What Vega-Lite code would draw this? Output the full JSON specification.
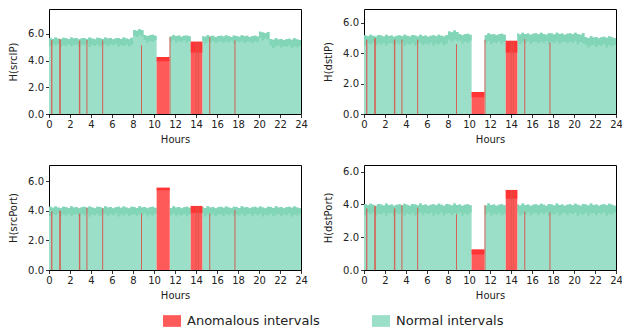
{
"$schema": "https://vega.github.io/schema/vega-lite/v6.json",
"padding": {"left": 8, "top": 8, "right": 0, "bottom": 0},
"config": {
  "font": "DejaVu Sans",
  "view": {"stroke": "#000", "strokeWidth": 1},
  "axis": {"domain": false, "grid": false, "tickColor": "#000", "tickSize": 3.5, "tickWidth": 0.8, "labelFontSize": 10, "labelColor": "#222", "labelPadding": 2, "titleFontSize": 10, "titleFontWeight": "normal", "titleColor": "#222", "labelOverlap": false, "labelFlush": false, "tickCount": 30},
  "axisX": {"titlePadding": 5},
  "axisY": {"titlePadding": 9}
},
"datasets": {
"srcIP": [{"h":0,"hi":5.70,"lo":5.07},{"h":0.25,"hi":5.63,"lo":5.20},{"h":0.5,"hi":5.73,"lo":5.13},{"h":0.75,"hi":5.66,"lo":5.24},{"h":1,"hi":5.61,"lo":5.03},{"h":1.25,"hi":5.71,"lo":5.18},{"h":1.5,"hi":5.68,"lo":5.10},{"h":1.75,"hi":5.62,"lo":5.22},{"h":2,"hi":5.74,"lo":5.05},{"h":2.25,"hi":5.65,"lo":5.17},{"h":2.5,"hi":5.69,"lo":5.21},{"h":2.75,"hi":5.60,"lo":5.07},{"h":3,"hi":5.67,"lo":5.20},{"h":3.25,"hi":5.70,"lo":5.13},{"h":3.5,"hi":5.63,"lo":5.24},{"h":3.75,"hi":5.73,"lo":5.03},{"h":4,"hi":5.66,"lo":5.18},{"h":4.25,"hi":5.61,"lo":5.10},{"h":4.5,"hi":5.71,"lo":5.22},{"h":4.75,"hi":5.68,"lo":5.05},{"h":5,"hi":5.62,"lo":5.17},{"h":5.25,"hi":5.74,"lo":5.21},{"h":5.5,"hi":5.65,"lo":5.07},{"h":5.75,"hi":5.69,"lo":5.20},{"h":6,"hi":5.60,"lo":5.13},{"h":6.25,"hi":5.67,"lo":5.24},{"h":6.5,"hi":5.70,"lo":5.03},{"h":6.75,"hi":5.63,"lo":5.18},{"h":7,"hi":5.73,"lo":5.10},{"h":7.25,"hi":5.66,"lo":5.22},{"h":7.5,"hi":5.61,"lo":5.05},{"h":7.75,"hi":5.71,"lo":5.17},{"h":8,"hi":6.30,"lo":5.91},{"h":8.25,"hi":6.24,"lo":5.77},{"h":8.5,"hi":6.36,"lo":5.90},{"h":8.75,"hi":6.27,"lo":5.83},{"h":9,"hi":5.93,"lo":5.54},{"h":9.25,"hi":5.84,"lo":5.33},{"h":9.5,"hi":5.91,"lo":5.48},{"h":9.75,"hi":5.94,"lo":5.40},{"h":10,"hi":5.87,"lo":5.52},{"h":10.25,"hi":0,"lo":0},{"h":11.5,"hi":5.81,"lo":5.43},{"h":11.75,"hi":5.93,"lo":5.54},{"h":12,"hi":5.84,"lo":5.33},{"h":12.25,"hi":5.88,"lo":5.48},{"h":12.5,"hi":5.79,"lo":5.40},{"h":12.75,"hi":5.86,"lo":5.52},{"h":13,"hi":5.89,"lo":5.35},{"h":13.25,"hi":5.82,"lo":5.47},{"h":13.5,"hi":0,"lo":0},{"h":14.6,"hi":5.85,"lo":5.49},{"h":14.75,"hi":5.79,"lo":5.28},{"h":15,"hi":5.91,"lo":5.43},{"h":15.25,"hi":5.82,"lo":5.35},{"h":15.5,"hi":5.86,"lo":5.47},{"h":15.75,"hi":5.77,"lo":5.30},{"h":16,"hi":5.84,"lo":5.42},{"h":16.25,"hi":5.87,"lo":5.46},{"h":16.5,"hi":5.80,"lo":5.32},{"h":16.75,"hi":5.90,"lo":5.45},{"h":17,"hi":5.83,"lo":5.38},{"h":17.25,"hi":5.78,"lo":5.49},{"h":17.5,"hi":5.88,"lo":5.28},{"h":17.75,"hi":5.85,"lo":5.43},{"h":18,"hi":5.79,"lo":5.35},{"h":18.25,"hi":5.91,"lo":5.47},{"h":18.5,"hi":5.82,"lo":5.30},{"h":18.75,"hi":5.86,"lo":5.42},{"h":19,"hi":5.77,"lo":5.46},{"h":19.25,"hi":5.84,"lo":5.32},{"h":19.5,"hi":5.87,"lo":5.45},{"h":19.75,"hi":5.80,"lo":5.38},{"h":20,"hi":6.17,"lo":5.74},{"h":20.25,"hi":6.10,"lo":5.53},{"h":20.5,"hi":6.05,"lo":5.68},{"h":20.75,"hi":6.15,"lo":5.60},{"h":21,"hi":5.62,"lo":5.12},{"h":21.25,"hi":5.56,"lo":4.95},{"h":21.5,"hi":5.68,"lo":5.07},{"h":21.75,"hi":5.59,"lo":5.11},{"h":22,"hi":5.63,"lo":4.97},{"h":22.25,"hi":5.54,"lo":5.10},{"h":22.5,"hi":5.61,"lo":5.03},{"h":22.75,"hi":5.64,"lo":5.14},{"h":23,"hi":5.57,"lo":4.93},{"h":23.25,"hi":5.67,"lo":5.08},{"h":23.5,"hi":5.60,"lo":5.00},{"h":23.75,"hi":5.55,"lo":5.12},{"h":24,"hi":5.65,"lo":4.95}],
"dstIP": [{"h":0,"hi":5.19,"lo":4.54},{"h":0.25,"hi":5.12,"lo":4.67},{"h":0.5,"hi":5.22,"lo":4.60},{"h":0.75,"hi":5.15,"lo":4.71},{"h":1,"hi":5.10,"lo":4.50},{"h":1.25,"hi":5.20,"lo":4.65},{"h":1.5,"hi":5.17,"lo":4.57},{"h":1.75,"hi":5.11,"lo":4.69},{"h":2,"hi":5.23,"lo":4.52},{"h":2.25,"hi":5.14,"lo":4.64},{"h":2.5,"hi":5.18,"lo":4.68},{"h":2.75,"hi":5.09,"lo":4.54},{"h":3,"hi":5.16,"lo":4.67},{"h":3.25,"hi":5.19,"lo":4.60},{"h":3.5,"hi":5.12,"lo":4.71},{"h":3.75,"hi":5.22,"lo":4.50},{"h":4,"hi":5.15,"lo":4.65},{"h":4.25,"hi":5.10,"lo":4.57},{"h":4.5,"hi":5.20,"lo":4.69},{"h":4.75,"hi":5.17,"lo":4.52},{"h":5,"hi":5.11,"lo":4.64},{"h":5.25,"hi":5.23,"lo":4.68},{"h":5.5,"hi":5.14,"lo":4.54},{"h":5.75,"hi":5.18,"lo":4.67},{"h":6,"hi":5.09,"lo":4.60},{"h":6.25,"hi":5.16,"lo":4.71},{"h":6.5,"hi":5.19,"lo":4.50},{"h":6.75,"hi":5.12,"lo":4.65},{"h":7,"hi":5.22,"lo":4.57},{"h":7.25,"hi":5.15,"lo":4.69},{"h":7.5,"hi":5.10,"lo":4.52},{"h":7.75,"hi":5.20,"lo":4.64},{"h":8,"hi":5.44,"lo":4.91},{"h":8.25,"hi":5.38,"lo":4.77},{"h":8.5,"hi":5.50,"lo":4.90},{"h":8.75,"hi":5.41,"lo":4.83},{"h":9,"hi":5.28,"lo":4.84},{"h":9.25,"hi":5.19,"lo":4.63},{"h":9.5,"hi":5.26,"lo":4.78},{"h":9.75,"hi":5.29,"lo":4.70},{"h":10,"hi":5.22,"lo":4.82},{"h":10.25,"hi":0,"lo":0},{"h":11.5,"hi":5.21,"lo":4.70},{"h":11.75,"hi":5.33,"lo":4.81},{"h":12,"hi":5.24,"lo":4.60},{"h":12.25,"hi":5.28,"lo":4.75},{"h":12.5,"hi":5.19,"lo":4.67},{"h":12.75,"hi":5.26,"lo":4.79},{"h":13,"hi":5.29,"lo":4.62},{"h":13.25,"hi":5.22,"lo":4.74},{"h":13.5,"hi":0,"lo":0},{"h":14.6,"hi":5.30,"lo":4.81},{"h":14.75,"hi":5.24,"lo":4.60},{"h":15,"hi":5.36,"lo":4.75},{"h":15.25,"hi":5.27,"lo":4.67},{"h":15.5,"hi":5.31,"lo":4.79},{"h":15.75,"hi":5.22,"lo":4.62},{"h":16,"hi":5.29,"lo":4.74},{"h":16.25,"hi":5.32,"lo":4.78},{"h":16.5,"hi":5.25,"lo":4.64},{"h":16.75,"hi":5.35,"lo":4.77},{"h":17,"hi":5.28,"lo":4.70},{"h":17.25,"hi":5.23,"lo":4.81},{"h":17.5,"hi":5.33,"lo":4.60},{"h":17.75,"hi":5.30,"lo":4.75},{"h":18,"hi":5.24,"lo":4.67},{"h":18.25,"hi":5.36,"lo":4.79},{"h":18.5,"hi":5.27,"lo":4.62},{"h":18.75,"hi":5.31,"lo":4.74},{"h":19,"hi":5.22,"lo":4.78},{"h":19.25,"hi":5.29,"lo":4.64},{"h":19.5,"hi":5.32,"lo":4.77},{"h":19.75,"hi":5.25,"lo":4.70},{"h":20,"hi":5.35,"lo":4.81},{"h":20.25,"hi":5.28,"lo":4.60},{"h":20.5,"hi":5.23,"lo":4.75},{"h":20.75,"hi":5.33,"lo":4.67},{"h":21,"hi":5.07,"lo":4.57},{"h":21.25,"hi":5.01,"lo":4.40},{"h":21.5,"hi":5.13,"lo":4.52},{"h":21.75,"hi":5.04,"lo":4.56},{"h":22,"hi":5.08,"lo":4.42},{"h":22.25,"hi":4.99,"lo":4.55},{"h":22.5,"hi":5.06,"lo":4.48},{"h":22.75,"hi":5.09,"lo":4.59},{"h":23,"hi":5.02,"lo":4.38},{"h":23.25,"hi":5.12,"lo":4.53},{"h":23.5,"hi":5.05,"lo":4.45},{"h":23.75,"hi":5.00,"lo":4.57},{"h":24,"hi":5.10,"lo":4.40}],
"srcPort": [{"h":0,"hi":4.26,"lo":3.64},{"h":0.25,"hi":4.19,"lo":3.77},{"h":0.5,"hi":4.29,"lo":3.70},{"h":0.75,"hi":4.22,"lo":3.81},{"h":1,"hi":4.17,"lo":3.60},{"h":1.25,"hi":4.27,"lo":3.75},{"h":1.5,"hi":4.24,"lo":3.67},{"h":1.75,"hi":4.18,"lo":3.79},{"h":2,"hi":4.30,"lo":3.62},{"h":2.25,"hi":4.21,"lo":3.74},{"h":2.5,"hi":4.25,"lo":3.78},{"h":2.75,"hi":4.16,"lo":3.64},{"h":3,"hi":4.23,"lo":3.77},{"h":3.25,"hi":4.26,"lo":3.70},{"h":3.5,"hi":4.19,"lo":3.81},{"h":3.75,"hi":4.29,"lo":3.60},{"h":4,"hi":4.22,"lo":3.75},{"h":4.25,"hi":4.17,"lo":3.67},{"h":4.5,"hi":4.27,"lo":3.79},{"h":4.75,"hi":4.24,"lo":3.62},{"h":5,"hi":4.18,"lo":3.74},{"h":5.25,"hi":4.30,"lo":3.78},{"h":5.5,"hi":4.21,"lo":3.64},{"h":5.75,"hi":4.25,"lo":3.77},{"h":6,"hi":4.16,"lo":3.70},{"h":6.25,"hi":4.23,"lo":3.81},{"h":6.5,"hi":4.26,"lo":3.60},{"h":6.75,"hi":4.19,"lo":3.75},{"h":7,"hi":4.29,"lo":3.67},{"h":7.25,"hi":4.22,"lo":3.79},{"h":7.5,"hi":4.17,"lo":3.62},{"h":7.75,"hi":4.27,"lo":3.74},{"h":8,"hi":4.24,"lo":3.78},{"h":8.25,"hi":4.18,"lo":3.64},{"h":8.5,"hi":4.30,"lo":3.77},{"h":8.75,"hi":4.21,"lo":3.70},{"h":9,"hi":4.25,"lo":3.81},{"h":9.25,"hi":4.16,"lo":3.60},{"h":9.5,"hi":4.23,"lo":3.75},{"h":9.75,"hi":4.26,"lo":3.67},{"h":10,"hi":4.19,"lo":3.79},{"h":10.25,"hi":0,"lo":0},{"h":11.5,"hi":4.18,"lo":3.70},{"h":11.75,"hi":4.30,"lo":3.81},{"h":12,"hi":4.21,"lo":3.60},{"h":12.25,"hi":4.25,"lo":3.75},{"h":12.5,"hi":4.16,"lo":3.67},{"h":12.75,"hi":4.23,"lo":3.79},{"h":13,"hi":4.26,"lo":3.62},{"h":13.25,"hi":4.19,"lo":3.74},{"h":13.5,"hi":0,"lo":0},{"h":14.6,"hi":4.24,"lo":3.81},{"h":14.75,"hi":4.18,"lo":3.60},{"h":15,"hi":4.30,"lo":3.75},{"h":15.25,"hi":4.21,"lo":3.67},{"h":15.5,"hi":4.25,"lo":3.79},{"h":15.75,"hi":4.16,"lo":3.62},{"h":16,"hi":4.23,"lo":3.74},{"h":16.25,"hi":4.26,"lo":3.78},{"h":16.5,"hi":4.19,"lo":3.64},{"h":16.75,"hi":4.29,"lo":3.77},{"h":17,"hi":4.22,"lo":3.70},{"h":17.25,"hi":4.17,"lo":3.81},{"h":17.5,"hi":4.27,"lo":3.60},{"h":17.75,"hi":4.24,"lo":3.75},{"h":18,"hi":4.18,"lo":3.67},{"h":18.25,"hi":4.30,"lo":3.79},{"h":18.5,"hi":4.21,"lo":3.62},{"h":18.75,"hi":4.25,"lo":3.74},{"h":19,"hi":4.16,"lo":3.78},{"h":19.25,"hi":4.23,"lo":3.64},{"h":19.5,"hi":4.26,"lo":3.77},{"h":19.75,"hi":4.19,"lo":3.70},{"h":20,"hi":4.29,"lo":3.81},{"h":20.25,"hi":4.22,"lo":3.60},{"h":20.5,"hi":4.17,"lo":3.75},{"h":20.75,"hi":4.27,"lo":3.67},{"h":21,"hi":4.24,"lo":3.79},{"h":21.25,"hi":4.18,"lo":3.62},{"h":21.5,"hi":4.30,"lo":3.74},{"h":21.75,"hi":4.21,"lo":3.78},{"h":22,"hi":4.25,"lo":3.64},{"h":22.25,"hi":4.16,"lo":3.77},{"h":22.5,"hi":4.23,"lo":3.70},{"h":22.75,"hi":4.26,"lo":3.81},{"h":23,"hi":4.19,"lo":3.60},{"h":23.25,"hi":4.29,"lo":3.75},{"h":23.5,"hi":4.22,"lo":3.67},{"h":23.75,"hi":4.17,"lo":3.79},{"h":24,"hi":4.27,"lo":3.62}],
"dstPort": [{"h":0,"hi":4.01,"lo":3.34},{"h":0.25,"hi":3.94,"lo":3.47},{"h":0.5,"hi":4.04,"lo":3.40},{"h":0.75,"hi":3.97,"lo":3.51},{"h":1,"hi":3.92,"lo":3.30},{"h":1.25,"hi":4.02,"lo":3.45},{"h":1.5,"hi":3.99,"lo":3.37},{"h":1.75,"hi":3.93,"lo":3.49},{"h":2,"hi":4.05,"lo":3.32},{"h":2.25,"hi":3.96,"lo":3.44},{"h":2.5,"hi":4.00,"lo":3.48},{"h":2.75,"hi":3.91,"lo":3.34},{"h":3,"hi":3.98,"lo":3.47},{"h":3.25,"hi":4.01,"lo":3.40},{"h":3.5,"hi":3.94,"lo":3.51},{"h":3.75,"hi":4.04,"lo":3.30},{"h":4,"hi":3.97,"lo":3.45},{"h":4.25,"hi":3.92,"lo":3.37},{"h":4.5,"hi":4.02,"lo":3.49},{"h":4.75,"hi":3.99,"lo":3.32},{"h":5,"hi":3.93,"lo":3.44},{"h":5.25,"hi":4.05,"lo":3.48},{"h":5.5,"hi":3.96,"lo":3.34},{"h":5.75,"hi":4.00,"lo":3.47},{"h":6,"hi":3.91,"lo":3.40},{"h":6.25,"hi":3.98,"lo":3.51},{"h":6.5,"hi":4.01,"lo":3.30},{"h":6.75,"hi":3.94,"lo":3.45},{"h":7,"hi":4.04,"lo":3.37},{"h":7.25,"hi":3.97,"lo":3.49},{"h":7.5,"hi":3.92,"lo":3.32},{"h":7.75,"hi":4.02,"lo":3.44},{"h":8,"hi":3.99,"lo":3.48},{"h":8.25,"hi":3.93,"lo":3.34},{"h":8.5,"hi":4.05,"lo":3.47},{"h":8.75,"hi":3.96,"lo":3.40},{"h":9,"hi":4.00,"lo":3.51},{"h":9.25,"hi":3.91,"lo":3.30},{"h":9.5,"hi":3.98,"lo":3.45},{"h":9.75,"hi":4.01,"lo":3.37},{"h":10,"hi":3.94,"lo":3.49},{"h":10.25,"hi":0,"lo":0},{"h":11.5,"hi":3.93,"lo":3.40},{"h":11.75,"hi":4.05,"lo":3.51},{"h":12,"hi":3.96,"lo":3.30},{"h":12.25,"hi":4.00,"lo":3.45},{"h":12.5,"hi":3.91,"lo":3.37},{"h":12.75,"hi":3.98,"lo":3.49},{"h":13,"hi":4.01,"lo":3.32},{"h":13.25,"hi":3.94,"lo":3.44},{"h":13.5,"hi":0,"lo":0},{"h":14.6,"hi":3.99,"lo":3.51},{"h":14.75,"hi":3.93,"lo":3.30},{"h":15,"hi":4.05,"lo":3.45},{"h":15.25,"hi":3.96,"lo":3.37},{"h":15.5,"hi":4.00,"lo":3.49},{"h":15.75,"hi":3.91,"lo":3.32},{"h":16,"hi":3.98,"lo":3.44},{"h":16.25,"hi":4.01,"lo":3.48},{"h":16.5,"hi":3.94,"lo":3.34},{"h":16.75,"hi":4.04,"lo":3.47},{"h":17,"hi":3.97,"lo":3.40},{"h":17.25,"hi":3.92,"lo":3.51},{"h":17.5,"hi":4.02,"lo":3.30},{"h":17.75,"hi":3.99,"lo":3.45},{"h":18,"hi":3.93,"lo":3.37},{"h":18.25,"hi":4.05,"lo":3.49},{"h":18.5,"hi":3.96,"lo":3.32},{"h":18.75,"hi":4.00,"lo":3.44},{"h":19,"hi":3.91,"lo":3.48},{"h":19.25,"hi":3.98,"lo":3.34},{"h":19.5,"hi":4.01,"lo":3.47},{"h":19.75,"hi":3.94,"lo":3.40},{"h":20,"hi":4.04,"lo":3.51},{"h":20.25,"hi":3.97,"lo":3.30},{"h":20.5,"hi":3.92,"lo":3.45},{"h":20.75,"hi":4.02,"lo":3.37},{"h":21,"hi":3.99,"lo":3.49},{"h":21.25,"hi":3.93,"lo":3.32},{"h":21.5,"hi":4.05,"lo":3.44},{"h":21.75,"hi":3.96,"lo":3.48},{"h":22,"hi":4.00,"lo":3.34},{"h":22.25,"hi":3.91,"lo":3.47},{"h":22.5,"hi":3.98,"lo":3.40},{"h":22.75,"hi":4.01,"lo":3.51},{"h":23,"hi":3.94,"lo":3.30},{"h":23.25,"hi":4.04,"lo":3.45},{"h":23.5,"hi":3.97,"lo":3.37},{"h":23.75,"hi":3.92,"lo":3.49},{"h":24,"hi":4.02,"lo":3.32}],
"srcIP_b": [{"s":10.25,"e":11.47,"top":4.27,"lo":3.95},{"s":13.5,"e":14.6,"top":5.42,"lo":4.6}],
"dstIP_b": [{"s":10.25,"e":11.47,"top":1.45,"lo":1.1},{"s":13.5,"e":14.6,"top":4.82,"lo":4.05}],
"srcPort_b": [{"s":10.25,"e":11.5,"top":5.55,"lo":5.38},{"s":13.5,"e":14.6,"top":4.32,"lo":3.85}],
"dstPort_b": [{"s":10.25,"e":11.47,"top":1.25,"lo":0.95},{"s":13.5,"e":14.6,"top":4.88,"lo":4.35}],
"srcIP_l": [{"s":0.2,"e":0.32,"top":5.55},{"s":0.97,"e":1.13,"top":5.6},{"s":2.85,"e":2.98,"top":5.5},{"s":3.56,"e":3.66,"top":5.55},{"s":5.06,"e":5.16,"top":5.5},{"s":8.76,"e":8.86,"top":5.15},{"s":11.47,"e":11.57,"top":5.75},{"s":13.97,"e":14.06,"top":5.35},{"s":14.2,"e":14.28,"top":5.35},{"s":15.26,"e":15.36,"top":5.75},{"s":17.66,"e":17.76,"top":5.5}],
"dstIP_l": [{"s":0.2,"e":0.32,"top":4.9},{"s":0.97,"e":1.13,"top":5.0},{"s":2.85,"e":2.98,"top":4.9},{"s":3.56,"e":3.66,"top":4.9},{"s":5.06,"e":5.16,"top":4.9},{"s":8.76,"e":8.86,"top":4.6},{"s":11.47,"e":11.57,"top":4.9},{"s":13.97,"e":14.06,"top":4.8},{"s":14.2,"e":14.28,"top":4.8},{"s":15.26,"e":15.36,"top":4.95},{"s":17.66,"e":17.76,"top":4.7}],
"srcPort_l": [{"s":0.2,"e":0.32,"top":3.95},{"s":0.97,"e":1.13,"top":4.0},{"s":2.85,"e":2.98,"top":3.8},{"s":3.56,"e":3.66,"top":4.2},{"s":5.06,"e":5.16,"top":4.15},{"s":8.76,"e":8.86,"top":3.8},{"s":13.97,"e":14.06,"top":4.3},{"s":14.2,"e":14.28,"top":4.3},{"s":15.26,"e":15.36,"top":3.8},{"s":17.66,"e":17.76,"top":4.05}],
"dstPort_l": [{"s":0.2,"e":0.32,"top":3.75},{"s":0.97,"e":1.13,"top":3.9},{"s":2.85,"e":2.98,"top":3.75},{"s":3.56,"e":3.66,"top":3.95},{"s":5.06,"e":5.16,"top":3.8},{"s":8.76,"e":8.86,"top":3.4},{"s":11.47,"e":11.57,"top":3.95},{"s":13.97,"e":14.06,"top":4.85},{"s":14.2,"e":14.28,"top":4.85},{"s":15.26,"e":15.36,"top":3.55},{"s":17.66,"e":17.76,"top":3.5}]
},
"bounds": "flush",
"columns": 2,
"spacing": {"row": 51, "column": 63},
"concat": [
{"width": 252, "height": 105, "layer": [
 {"data": {"name": "srcIP"}, "mark": {"type": "area", "interpolate": "step-after"}, "encoding": {
   "x": {"field": "h", "type": "quantitative", "title": "Hours", "scale": {"domain": [0, 24], "nice": false}, "axis": {"values": [0,2,4,6,8,10,12,14,16,18,20,22,24], "format": "d", "tickCount": 30}},
   "y": {"field": "hi", "type": "quantitative", "title": "H(srcIP)", "scale": {"domain": [0, 7.87], "nice": false}, "axis": {"values": [0,2,4,6], "format": ".1f", "tickCount": 30}},
   "color": {"datum": "Normal intervals", "scale": {"domain": ["Anomalous intervals", "Normal intervals"], "range": ["#ff5a5a", "#9bdfc8"]}, "legend": {"title": null, "orient": "none", "legendX": 114, "legendY": 303, "direction": "horizontal", "columns": 2, "columnPadding": 52, "symbolType": "M-1,-0.65H1V0.65H-1Z", "symbolSize": 324, "symbolStrokeWidth": 0, "symbolOpacity": 1, "labelFontSize": 13, "labelOffset": 6, "labelColor": "#222"}}}},
 {"data": {"name": "srcIP"}, "mark": {"type": "area", "interpolate": "step-after", "color": "#7ed3b3", "opacity": 0.85}, "encoding": {
   "x": {"field": "h", "type": "quantitative", "title": "Hours"}, "y": {"field": "hi", "type": "quantitative", "title": "H(srcIP)"}, "y2": {"field": "lo"}}},
 {"data": {"name": "srcIP_b"}, "mark": {"type": "rect"}, "encoding": {
   "x": {"field": "s", "type": "quantitative", "title": "Hours"}, "x2": {"field": "e"}, "y": {"field": "top", "type": "quantitative", "title": "H(srcIP)"}, "y2": {"datum": 0},
   "color": {"datum": "Anomalous intervals"}}},
 {"data": {"name": "srcIP_b"}, "mark": {"type": "rect", "color": "#ff2a2a", "opacity": 0.8}, "encoding": {
   "x": {"field": "s", "type": "quantitative", "title": "Hours"}, "x2": {"field": "e"}, "y": {"field": "top", "type": "quantitative", "title": "H(srcIP)"}, "y2": {"field": "lo"}}},
 {"data": {"name": "srcIP_l"}, "mark": {"type": "rect", "color": "#d9574b", "opacity": 0.9}, "encoding": {
   "x": {"field": "s", "type": "quantitative", "title": "Hours"}, "x2": {"field": "e"}, "y": {"field": "top", "type": "quantitative", "title": "H(srcIP)"}, "y2": {"datum": 0}}}
]},
{"width": 252, "height": 105, "layer": [
 {"data": {"name": "dstIP"}, "mark": {"type": "area", "interpolate": "step-after"}, "encoding": {
   "x": {"field": "h", "type": "quantitative", "title": "Hours", "scale": {"domain": [0, 24], "nice": false}, "axis": {"values": [0,2,4,6,8,10,12,14,16,18,20,22,24], "format": "d", "tickCount": 30}},
   "y": {"field": "hi", "type": "quantitative", "title": "H(dstIP)", "scale": {"domain": [0, 6.92], "nice": false}, "axis": {"values": [0,2,4,6], "format": ".1f", "tickCount": 30}},
   "color": {"datum": "Normal intervals"}}},
 {"data": {"name": "dstIP"}, "mark": {"type": "area", "interpolate": "step-after", "color": "#7ed3b3", "opacity": 0.85}, "encoding": {
   "x": {"field": "h", "type": "quantitative", "title": "Hours"}, "y": {"field": "hi", "type": "quantitative", "title": "H(dstIP)"}, "y2": {"field": "lo"}}},
 {"data": {"name": "dstIP_b"}, "mark": {"type": "rect"}, "encoding": {
   "x": {"field": "s", "type": "quantitative", "title": "Hours"}, "x2": {"field": "e"}, "y": {"field": "top", "type": "quantitative", "title": "H(dstIP)"}, "y2": {"datum": 0},
   "color": {"datum": "Anomalous intervals"}}},
 {"data": {"name": "dstIP_b"}, "mark": {"type": "rect", "color": "#ff2a2a", "opacity": 0.8}, "encoding": {
   "x": {"field": "s", "type": "quantitative", "title": "Hours"}, "x2": {"field": "e"}, "y": {"field": "top", "type": "quantitative", "title": "H(dstIP)"}, "y2": {"field": "lo"}}},
 {"data": {"name": "dstIP_l"}, "mark": {"type": "rect", "color": "#d9574b", "opacity": 0.9}, "encoding": {
   "x": {"field": "s", "type": "quantitative", "title": "Hours"}, "x2": {"field": "e"}, "y": {"field": "top", "type": "quantitative", "title": "H(dstIP)"}, "y2": {"datum": 0}}}
]},
{"width": 252, "height": 105, "layer": [
 {"data": {"name": "srcPort"}, "mark": {"type": "area", "interpolate": "step-after"}, "encoding": {
   "x": {"field": "h", "type": "quantitative", "title": "Hours", "scale": {"domain": [0, 24], "nice": false}, "axis": {"values": [0,2,4,6,8,10,12,14,16,18,20,22,24], "format": "d", "tickCount": 30}},
   "y": {"field": "hi", "type": "quantitative", "title": "H(srcPort)", "scale": {"domain": [0, 7.08], "nice": false}, "axis": {"values": [0,2,4,6], "format": ".1f", "tickCount": 30}},
   "color": {"datum": "Normal intervals"}}},
 {"data": {"name": "srcPort"}, "mark": {"type": "area", "interpolate": "step-after", "color": "#7ed3b3", "opacity": 0.85}, "encoding": {
   "x": {"field": "h", "type": "quantitative", "title": "Hours"}, "y": {"field": "hi", "type": "quantitative", "title": "H(srcPort)"}, "y2": {"field": "lo"}}},
 {"data": {"name": "srcPort_b"}, "mark": {"type": "rect"}, "encoding": {
   "x": {"field": "s", "type": "quantitative", "title": "Hours"}, "x2": {"field": "e"}, "y": {"field": "top", "type": "quantitative", "title": "H(srcPort)"}, "y2": {"datum": 0},
   "color": {"datum": "Anomalous intervals"}}},
 {"data": {"name": "srcPort_b"}, "mark": {"type": "rect", "color": "#ff2a2a", "opacity": 0.8}, "encoding": {
   "x": {"field": "s", "type": "quantitative", "title": "Hours"}, "x2": {"field": "e"}, "y": {"field": "top", "type": "quantitative", "title": "H(srcPort)"}, "y2": {"field": "lo"}}},
 {"data": {"name": "srcPort_l"}, "mark": {"type": "rect", "color": "#d9574b", "opacity": 0.9}, "encoding": {
   "x": {"field": "s", "type": "quantitative", "title": "Hours"}, "x2": {"field": "e"}, "y": {"field": "top", "type": "quantitative", "title": "H(srcPort)"}, "y2": {"datum": 0}}}
]},
{"width": 252, "height": 105, "layer": [
 {"data": {"name": "dstPort"}, "mark": {"type": "area", "interpolate": "step-after"}, "encoding": {
   "x": {"field": "h", "type": "quantitative", "title": "Hours", "scale": {"domain": [0, 24], "nice": false}, "axis": {"values": [0,2,4,6,8,10,12,14,16,18,20,22,24], "format": "d", "tickCount": 30}},
   "y": {"field": "hi", "type": "quantitative", "title": "H(dstPort)", "scale": {"domain": [0, 6.4], "nice": false}, "axis": {"values": [0,2,4,6], "format": ".1f", "tickCount": 30}},
   "color": {"datum": "Normal intervals"}}},
 {"data": {"name": "dstPort"}, "mark": {"type": "area", "interpolate": "step-after", "color": "#7ed3b3", "opacity": 0.85}, "encoding": {
   "x": {"field": "h", "type": "quantitative", "title": "Hours"}, "y": {"field": "hi", "type": "quantitative", "title": "H(dstPort)"}, "y2": {"field": "lo"}}},
 {"data": {"name": "dstPort_b"}, "mark": {"type": "rect"}, "encoding": {
   "x": {"field": "s", "type": "quantitative", "title": "Hours"}, "x2": {"field": "e"}, "y": {"field": "top", "type": "quantitative", "title": "H(dstPort)"}, "y2": {"datum": 0},
   "color": {"datum": "Anomalous intervals"}}},
 {"data": {"name": "dstPort_b"}, "mark": {"type": "rect", "color": "#ff2a2a", "opacity": 0.8}, "encoding": {
   "x": {"field": "s", "type": "quantitative", "title": "Hours"}, "x2": {"field": "e"}, "y": {"field": "top", "type": "quantitative", "title": "H(dstPort)"}, "y2": {"field": "lo"}}},
 {"data": {"name": "dstPort_l"}, "mark": {"type": "rect", "color": "#d9574b", "opacity": 0.9}, "encoding": {
   "x": {"field": "s", "type": "quantitative", "title": "Hours"}, "x2": {"field": "e"}, "y": {"field": "top", "type": "quantitative", "title": "H(dstPort)"}, "y2": {"datum": 0}}}
]}
]
}
